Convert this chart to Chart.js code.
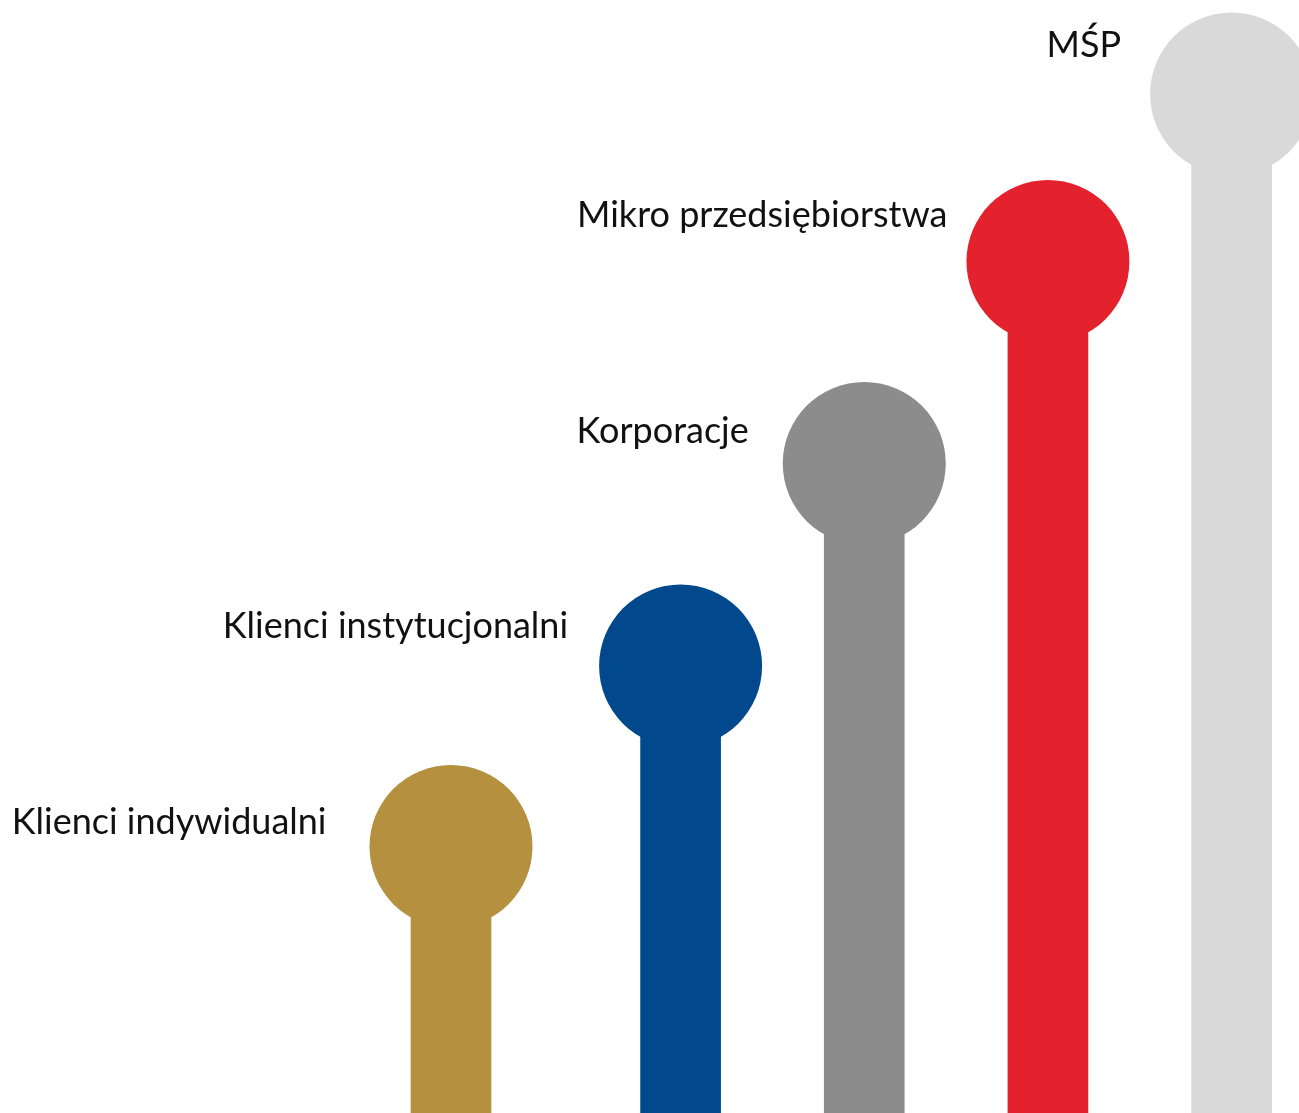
<!DOCTYPE html>
<html>
<head>
<meta charset="utf-8">
<script src="https://cdn.jsdelivr.net/npm/chart.js@4/dist/chart.umd.min.js"></script>
<style>
  html, body { margin: 0; padding: 0; background: #fff; }
  #wrap { width: 1299px; height: 1113px; }
</style>
</head>
<body>
<div id="wrap"><canvas id="myChart" width="1299" height="1113"></canvas></div>
<script>
// chart data
const categories = ['Klienci indywidualni', 'Klienci instytucjonalni', 'Korporacje', 'Mikro przedsiębiorstwa', 'MŚP'];
const values = [266.5, 447, 649.5, 851.5, 1019];
const colors = ['#B5903F', '#02488C', '#8C8C8C', '#E4222E', '#D9D9D9'];

// layout: horizontal slot of each stem, label nudges (dx gap, dy rise)
const slots = [0, 1.25, 2.25, 3.25, 4.25];
const labelGap = [43, 31, 34, 19, 29];
const labelRise = [13, 28, 21, 35, 37];
const headRadius = 81.5;

const pts = values.map((v, i) => ({ x: slots[i], y: v }));

// draws the category names to the left of each circle
const labelPlugin = {
    id: 'stemLabels',
    afterDatasetsDraw(chart) {
        const ctx = chart.ctx;
        const xs = chart.scales.x;
        const ys = chart.scales.y;
        ctx.save();
        ctx.font = '36px Lato';
        ctx.fillStyle = '#111';
        ctx.textAlign = 'right';
        ctx.textBaseline = 'alphabetic';
        categories.forEach((name, i) => {
            const px = xs.getPixelForValue(slots[i]) - headRadius - labelGap[i];
            const py = ys.getPixelForValue(values[i]) - labelRise[i];
            ctx.fillText(name, px, py);
        });
        ctx.restore();
    }
};

new Chart(document.getElementById('myChart'), {
    type: 'bar',
    data: {
        datasets: [
            {
                type: 'scatter',
                data: pts,
                pointRadius: headRadius,
                pointHoverRadius: headRadius,
                pointBorderWidth: 0,
                pointBackgroundColor: colors,
                borderWidth: 0,
                clip: false,
                order: 0
            },
            {
                type: 'bar',
                data: pts,
                backgroundColor: colors,
                barThickness: 80,
                borderWidth: 0,
                clip: false,
                order: 1
            }
        ]
    },
    options: {
        responsive: false,
        animation: false,
        events: [],
        layout: { padding: 0, autoPadding: false },
        scales: {
            x: { type: 'linear', offset: false, min: -2.4555, max: 4.617, display: false },
            y: { min: 0, max: 1113, display: false }
        },
        plugins: {
            legend: { display: false },
            tooltip: { enabled: false }
        }
    },
    plugins: [labelPlugin]
});
</script>
</body>
</html>
